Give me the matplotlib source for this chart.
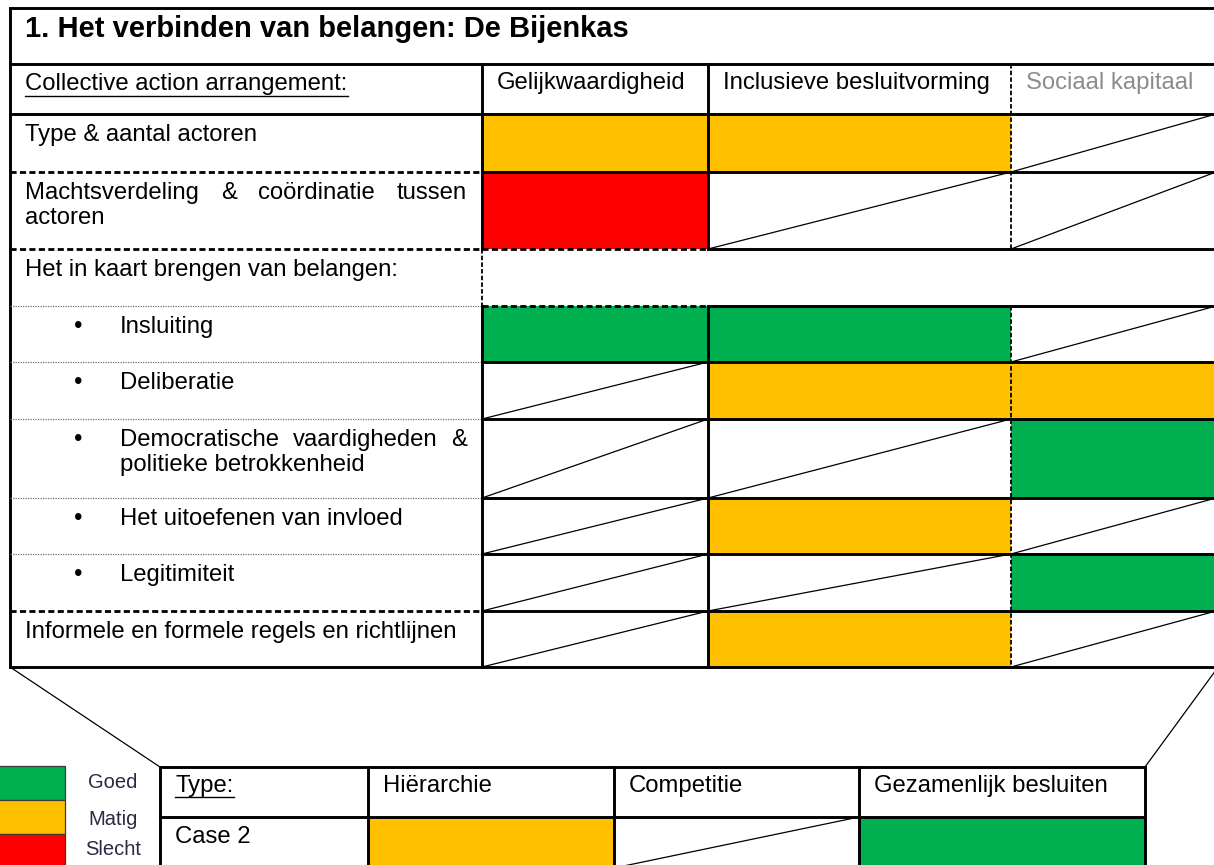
import matplotlib
matplotlib.use("Agg")
import matplotlib.pyplot as plt
from matplotlib.patches import Rectangle

plt.rcParams['font.family'] = ['Liberation Sans', 'DejaVu Sans']

# ---- data ----
title = "1. Het verbinden van belangen: De Bijenkas"
corner_label = "Collective action arrangement:"
col_headers = ["Gelijkwaardigheid", "Inclusieve besluitvorming", "Sociaal kapitaal"]
row_labels = [
    "Type & aantal actoren",
    "Machtsverdeling & coördinatie tussen\nactoren",
    "Het in kaart brengen van belangen:",
    "Insluiting",
    "Deliberatie",
    "Democratische vaardigheden &\npolitieke betrokkenheid",
    "Het uitoefenen van invloed",
    "Legitimiteit",
    "Informele en formele regels en richtlijnen",
]
bullet_rows = [3, 4, 5, 6, 7]
# rating per cell: None = not scored (diagonal), "skip" = merged row without cells
ratings = [
    ["Matig", "Matig", None],
    ["Slecht", None, None],
    "skip",
    ["Goed", "Goed", None],
    [None, "Matig", "Matig"],
    [None, None, "Goed"],
    [None, "Matig", None],
    [None, None, "Goed"],
    [None, "Matig", None],
]

type_label = "Type:"
case_types = ["Hiërarchie", "Competitie", "Gezamenlijk besluiten"]
case_names = ["Case 2"]
case_ratings = [["Matig", None, "Goed"]]

legend_labels = ["Goed", "Matig", "Slecht"]
rating_colors = {"Goed": "#00B050", "Matig": "#FFC000", "Slecht": "#FF0000"}

# ---- layout (pixels) ----
W, H = 1214, 865
fig = plt.figure(figsize=(W / 100, H / 100), dpi=100)
ax = fig.add_axes([0, 0, 1, 1])
ax.set_xlim(0, W)
ax.set_ylim(H, 0)
ax.axis("off")

FS = 17.2
THICK = 2.1
THIN = 0.9

x_left, x_right = 10, 1216
col_x = [482, 708, 1011, x_right]
y_top, y_title, y_head = 8, 64, 114
row_y = [114, 172, 249, 306, 362, 419, 498, 554, 611, 667]


def hline(y, x0, x1, style="solid", lw=THICK, color="black"):
    if style == "dash":
        ax.plot([x0, x1], [y, y], color=color, lw=lw, dashes=(2.2, 1.2), solid_capstyle="butt")
    elif style == "dot":
        ax.plot([x0, x1], [y, y], color="#707070", lw=0.9, dashes=(1, 1))
    else:
        ax.plot([x0, x1], [y, y], color=color, lw=lw, solid_capstyle="projecting")


def vline(x, y0, y1, style="solid", lw=THICK):
    if style == "dash":
        ax.plot([x, x], [y0, y1], color="black", lw=1.3, dashes=(2.5, 1.2))
    else:
        ax.plot([x, x], [y0, y1], color="black", lw=lw, solid_capstyle="projecting")


def justified(words, x0, x1, y, size=FS):
    # spread words over the full cell width, like Word's justify
    texts = [ax.text(0, y, w, fontsize=size, va="baseline") for w in words]
    r = fig.canvas.get_renderer()
    inv = ax.transData.inverted()
    widths = []
    for t in texts:
        bb = t.get_window_extent(renderer=r)
        p0 = inv.transform((bb.x0, bb.y0))
        p1 = inv.transform((bb.x1, bb.y0))
        widths.append(p1[0] - p0[0])
    gap = (x1 - x0 - sum(widths)) / (len(words) - 1)
    x = x0
    for t, w in zip(texts, widths):
        t.set_x(x)
        x += w + gap


# cells
for i, row in enumerate(ratings):
    if row == "skip":
        continue
    y0, y1 = row_y[i], row_y[i + 1]
    for j, val in enumerate(row):
        x0, x1 = col_x[j], col_x[j + 1]
        if val is None:
            ax.plot([x0, x1], [y1, y0], color="black", lw=THIN)
        else:
            ax.add_patch(Rectangle((x0, y0), x1 - x0, y1 - y0, color=rating_colors[val], lw=0))

# outer frame and header lines
hline(y_top, x_left, x_right)
hline(y_title, x_left, x_right)
hline(y_head, x_left, x_right)
vline(x_left, y_top, row_y[-1])
hline(row_y[-1], x_left, x_right)

# horizontal row lines
left_styles = ["dash", "dash", "dot", "dot", "dot", "dot", "dot", "dash"]
for k, y in enumerate(row_y[1:-1]):
    hline(y, x_left, col_x[0], left_styles[k], lw=2.0)
    if y in (249, 306):
        hline(y, col_x[0], col_x[1], "dash", lw=2.0)
        hline(y, col_x[1], x_right)
    else:
        hline(y, col_x[0], x_right)

# verticals
vline(col_x[0], y_title, row_y[2])
vline(col_x[0], row_y[2], row_y[3], "dash")
vline(col_x[0], row_y[3], row_y[-1])
vline(col_x[1], y_title, row_y[2])
vline(col_x[1], row_y[3], row_y[-1])
vline(col_x[2], y_title, row_y[2], "dash")
vline(col_x[2], row_y[3], row_y[-1], "dash")

# texts
ax.text(25, 37, title, fontsize=21, fontweight="bold", va="baseline")
ax.text(25, 90, corner_label, fontsize=FS, va="baseline")
ax.plot([25, 348], [96, 96], color="black", lw=1.0)
hdr_colors = ["black", "black", "#8c8c8c"]
for j, h in enumerate(col_headers):
    ax.text(col_x[j] + 15, 89, h, fontsize=FS, va="baseline", color=hdr_colors[j])

for i, lab in enumerate(row_labels):
    y0 = row_y[i]
    tx = 120 if i in bullet_rows else 25
    if i in bullet_rows:
        ax.text(78, y0 + 27, "\u2022", fontsize=FS, va="baseline", ha="center")
    lines = lab.split("\n")
    for k, line in enumerate(lines):
        yb = y0 + 27 + k * 25
        if k < len(lines) - 1:
            justified(line.split(" "), tx, 467, yb)
        else:
            ax.text(tx, yb, line, fontsize=FS, va="baseline")

# connector lines
ax.plot([x_left, 160], [667, 767], color="black", lw=THIN)
ax.plot([1145, 1216], [767, 670], color="black", lw=THIN)

# bottom table
bx = [160, 368, 614, 859, 1145]
by = [767, 817, 868]
for i, name in enumerate(case_names):
    for j, val in enumerate(case_ratings[i]):
        x0, x1 = bx[j + 1], bx[j + 2]
        if val is None:
            ax.plot([x0, x1], [by[i + 2], by[i + 1]], color="black", lw=THIN)
        else:
            ax.add_patch(Rectangle((x0, by[i + 1]), x1 - x0, by[i + 2] - by[i + 1],
                                   color=rating_colors[val], lw=0))
for y in by:
    hline(y, bx[0], bx[-1])
for x in bx:
    vline(x, by[0], by[-1])
ax.text(bx[0] + 15, 792, type_label, fontsize=FS, va="baseline")
ax.plot([bx[0] + 15, bx[0] + 15 + 59], [797, 797], color="black", lw=1.0)
for j, t in enumerate(case_types):
    ax.text(bx[j + 1] + 15, 792, t, fontsize=FS, va="baseline")
for i, name in enumerate(case_names):
    ax.text(bx[0] + 15, by[i + 1] + 26, name, fontsize=FS, va="baseline")

# legend
leg_y = [766, 800, 834, 868]
for k, lab in enumerate(legend_labels):
    ax.add_patch(Rectangle((-2, leg_y[k]), 67, leg_y[k + 1] - leg_y[k],
                           facecolor=rating_colors[lab], edgecolor="#3a3a3a", lw=0.9))
leg_text_y = [788, 825, 855]
for k, lab in enumerate(legend_labels):
    ax.text(113, leg_text_y[k], lab, fontsize=14.5, va="baseline", ha="center", color="#2a2a44")

fig.savefig("out.png", dpi=100)
